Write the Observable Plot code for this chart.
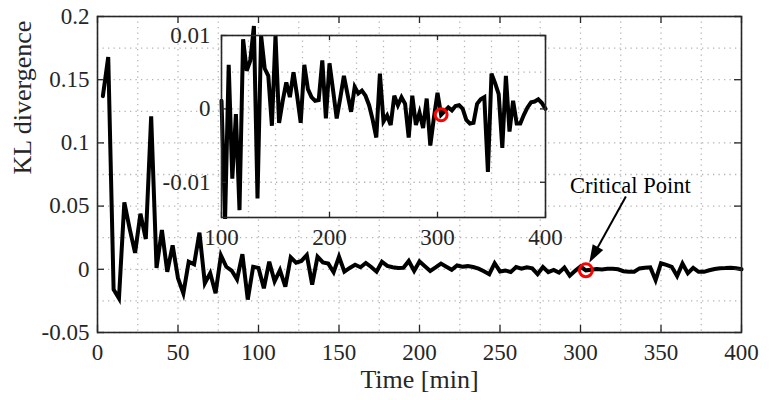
<!DOCTYPE html>
<html>
<head>
<meta charset="utf-8">
<script src="https://cdn.jsdelivr.net/npm/d3@7"></script>
<script src="https://cdn.jsdelivr.net/npm/@observablehq/plot@0.6"></script>
<style>
  html, body { margin: 0; padding: 0; background: #fff; }
  #chart { position: relative; width: 770px; height: 400px; }
  #chart svg { position: absolute; left: 0; top: 0; overflow: visible; }
  #chart svg text { font-family: 'Liberation Serif', 'Times New Roman', serif !important; }
</style>
</head>
<body>
<div id="chart"></div>
<script>
// KL divergence sampled every 10/3 minutes, from t = 3.33 to t = 400 min
const step = 10 / 3;
const kl = [
  0.137, 0.168, -0.016, -0.023, 0.053, 0.032, 0.013, 0.044, 0.024, 0.121,
  0.001, 0.031, -0.002, 0.019, -0.007, -0.019, 0.006, 0.004, 0.029, -0.011,
  -0.003, -0.019, 0.011, 0.002, -0.001, -0.008, 0.012, -0.024, 0.002,
  0.0011, -0.0150, 0.0060, -0.0095, -0.0007, -0.0138, 0.0095, 0.0052, 0.0066, 0.0113,
  -0.0122, 0.0100, 0.0055, 0.0045, -0.0023, 0.0100, -0.0019, 0.0011, 0.0036, 0.0016,
  0.0050, 0.0018, -0.0019, 0.0060, 0.0027, 0.0016, 0.0011, 0.0012, 0.0066, -0.0013,
  0.0062, 0.0025, -0.0013, 0.0015, 0.0045, 0.0020, -0.0004, 0.0030, 0.0021, 0.0025,
  0.0018, 0.0005, -0.0015, -0.0039, 0.0048, -0.0017, -0.0009, -0.0022, 0.0018, 0.0005,
  0.0016, 0.0007, -0.0039, 0.0018, -0.0022, -0.0005, -0.0026, 0.0014, -0.0050, -0.0012,
  0.0022, -0.0008, -0.0003, 0.0002, -0.0002, 0.0004, 0.0005, 0.0000, -0.0015, -0.0020,
  -0.0019, 0.0007, 0.0013, 0.0016, -0.0086, 0.0048, 0.0035, 0.0020, -0.0053, 0.0045,
  -0.0031, 0.0011, -0.0020, -0.0020, -0.0008, 0.0002, 0.0009, 0.0010, 0.0013, 0.0008,
  0.0000
];
const time = kl.map((_, i) => (i + 1) * step);
const series = time.map((t, i) => ({time: t, kl: kl[i]}));

// sample flagged as the critical point
const criticalIndex = 90;
const critical = [series[criticalIndex]];

// main axes
const xTicks = [0, 50, 100, 150, 200, 250, 300, 350, 400];
const yTicks = [-0.05, 0, 0.05, 0.1, 0.15, 0.2];
const xGrid = d3.range(0, 17).map(k => k * 25);
const yGrid = d3.range(-2, 9).map(k => k * 0.025);

// inset axes
const insetXTicks = [100, 200, 300, 400];
const insetYTicks = [-0.01, 0, 0.01];
const insetXGrid = d3.range(4, 17).map(k => k * 25);
const insetYGrid = d3.range(-2, 3).map(k => k * 0.005);

// annotation
const noteText = "Critical Point";
const notePos = {time: 331, value: 0.066};
const arrowFrom = {time: 328.5, value: 0.0572};

const fmt = d => String(+d.toFixed(3));
const ink = "#262626";
const gridStyle = {stroke: "#b4b4b4", strokeWidth: 1.3, strokeDasharray: "1.3,4.2"};
const font = "'Liberation Serif', 'Times New Roman', serif";
const tickText = {fontFamily: font, fontSize: 23, fill: ink, tickFormat: fmt, label: null, tickSize: 0};

const W = 770, H = 400;
const mainBox = {left: 97, right: 29, top: 16, bottom: 68};
const mainW = W - mainBox.left - mainBox.right;
const mainH = H - mainBox.top - mainBox.bottom;
const tick = 7;

const main = Plot.plot({
  width: W, height: H,
  marginLeft: mainBox.left, marginRight: mainBox.right,
  marginTop: mainBox.top, marginBottom: mainBox.bottom,
  style: {fontFamily: font, fontSize: "23px", background: "transparent", color: ink},
  x: {domain: [0, 400]},
  y: {domain: [-0.05, 0.2]},
  marks: [
    Plot.ruleX(xGrid, gridStyle),
    Plot.ruleY(yGrid, gridStyle),
    Plot.line(series, {x: "time", y: "kl", stroke: "black", strokeWidth: 4,
      strokeLinejoin: "miter", strokeMiterlimit: 4}),
    Plot.tickX(xTicks, {x: d => d, insetTop: mainH - tick, stroke: ink, strokeWidth: 1.3}),
    Plot.tickX(xTicks, {x: d => d, insetBottom: mainH - tick, stroke: ink, strokeWidth: 1.3}),
    Plot.tickY(yTicks, {y: d => d, insetRight: mainW - tick, stroke: ink, strokeWidth: 1.3}),
    Plot.tickY(yTicks, {y: d => d, insetLeft: mainW - tick, stroke: ink, strokeWidth: 1.3}),
    Plot.frame({stroke: ink, strokeWidth: 1.6}),
    Plot.axisX(xTicks, {...tickText, tickPadding: 11}),
    Plot.axisY(yTicks, {...tickText, tickPadding: 8}),
    Plot.text(["Time [min]"], {frameAnchor: "bottom", dy: 55, fontFamily: font, fontSize: 26, fill: ink}),
    Plot.text(["KL divergence"], {frameAnchor: "left", dx: -75, rotate: -90, fontFamily: font, fontSize: 26, fill: ink}),
    Plot.text([noteText], {x: () => notePos.time, y: () => notePos.value, fontFamily: font, fontSize: 22.5, fill: "black"}),
    Plot.dot(critical, {x: "time", y: "kl", r: 6.5, stroke: "#ff0000", strokeWidth: 3, fill: "none"})
  ]
});

// arrow from the note to the critical point, with a filled head
{
  const sx = main.scale("x"), sy = main.scale("y");
  const x0 = sx.apply(arrowFrom.time), y0 = sy.apply(arrowFrom.value);
  const cx = sx.apply(critical[0].time), cy = sy.apply(critical[0].kl);
  const dx = cx - x0, dy = cy - y0, len = Math.hypot(dx, dy);
  const ux = dx / len, uy = dy / len;
  const tipX = cx - ux * 8, tipY = cy - uy * 8;
  const headLen = 18, headHalf = 6;
  const bx = tipX - ux * headLen, by = tipY - uy * headLen;
  const g = d3.select(main).append("g");
  g.append("line").attr("x1", x0).attr("y1", y0).attr("x2", bx + ux * 2).attr("y2", by + uy * 2)
    .attr("stroke", "black").attr("stroke-width", 2);
  g.append("path")
    .attr("d", `M${tipX},${tipY}L${bx - uy * headHalf},${by + ux * headHalf}L${bx + uy * headHalf},${by - ux * headHalf}Z`)
    .attr("fill", "black");
}

// zoomed inset over 100-400 min
const insetBox = {left: 221, right: 225, top: 35, bottom: 183};
const insetW = W - insetBox.left - insetBox.right;
const insetH = H - insetBox.top - insetBox.bottom;
const insetTick = 5;
const late = series.filter(d => d.time >= 100 - 1e-9);

const inset = Plot.plot({
  width: W, height: H,
  marginLeft: insetBox.left, marginRight: insetBox.right,
  marginTop: insetBox.top, marginBottom: insetBox.bottom,
  style: {fontFamily: font, fontSize: "23px", background: "transparent", color: ink, overflow: "visible"},
  x: {domain: [100, 400]},
  y: {domain: [-0.0148, 0.01]},
  marks: [
    Plot.frame({fill: "white", stroke: "none"}),
    Plot.ruleX(insetXGrid, gridStyle),
    Plot.ruleY(insetYGrid, gridStyle),
    Plot.line(late, {x: "time", y: "kl", stroke: "black", strokeWidth: 4,
      strokeLinejoin: "miter", strokeMiterlimit: 4}),
    Plot.tickX(insetXTicks, {x: d => d, insetTop: insetH - insetTick, stroke: ink, strokeWidth: 1.3}),
    Plot.tickX(insetXTicks, {x: d => d, insetBottom: insetH - insetTick, stroke: ink, strokeWidth: 1.3}),
    Plot.tickY(insetYTicks, {y: d => d, insetRight: insetW - insetTick, stroke: ink, strokeWidth: 1.3}),
    Plot.tickY(insetYTicks, {y: d => d, insetLeft: insetW - insetTick, stroke: ink, strokeWidth: 1.3}),
    Plot.frame({stroke: ink, strokeWidth: 1.6}),
    Plot.axisX(insetXTicks, {...tickText, tickPadding: 11}),
    Plot.axisY(insetYTicks, {...tickText, tickPadding: 11}),
    Plot.dot(critical, {x: "time", y: "kl", r: 6, stroke: "#ff0000", strokeWidth: 3, fill: "none"})
  ]
});

const chart = document.getElementById("chart");
chart.appendChild(main);
chart.appendChild(inset);
</script>
</body>
</html>
